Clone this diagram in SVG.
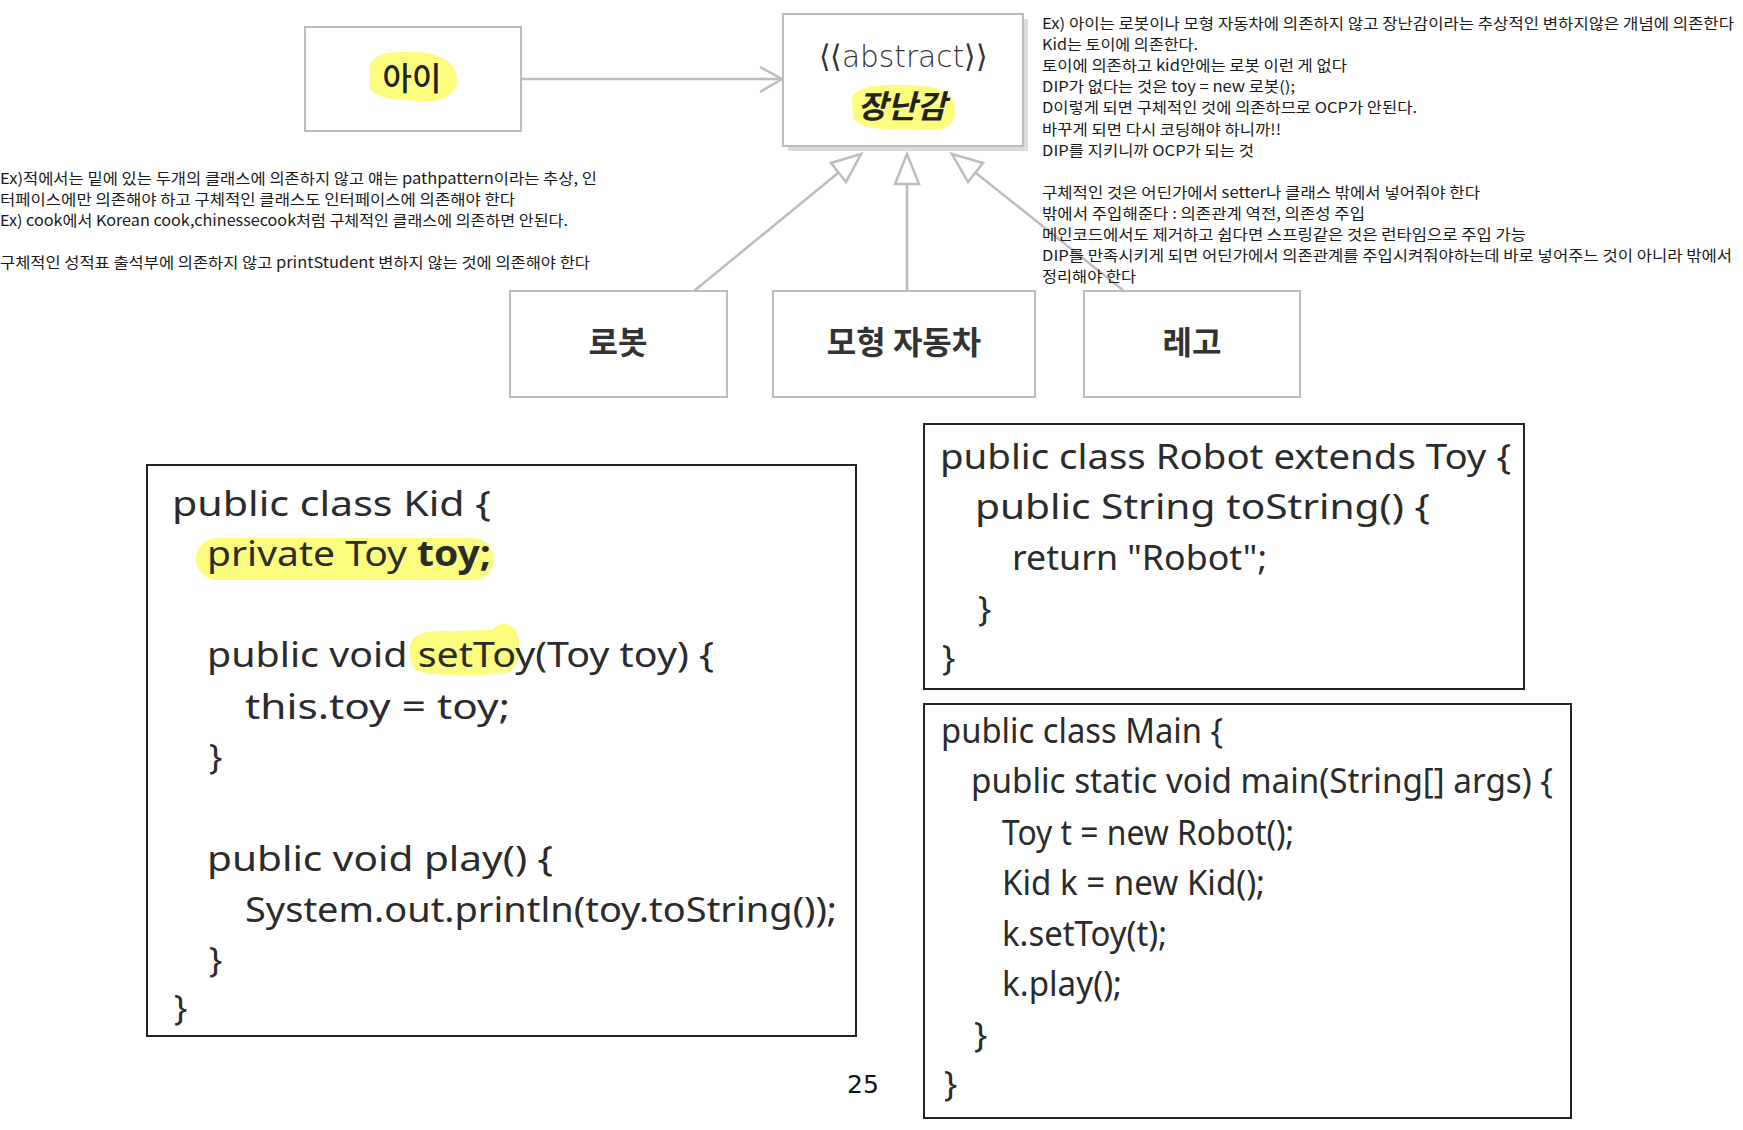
<svg xmlns="http://www.w3.org/2000/svg" width="1743" height="1130" viewBox="0 0 1743 1130">
<defs>
<style>
.bg{fill:#ffffff}
.uml{fill:#ffffff;stroke:#bdbdbd;stroke-width:2}
.shadow{fill:#dcdcdc}
.conn{stroke:#bdbdbd;stroke-width:2.5;fill:none}
.tri{fill:#ffffff;stroke:#bdbdbd;stroke-width:2.5;stroke-linejoin:miter}
.hl{fill:#fcfc7e}
.note{font-family:"Noto Sans CJK KR","Noto Sans",sans-serif;font-size:15px;fill:#1a1a1a}
.lbl{font-family:"Noto Sans CJK KR","Noto Sans",sans-serif;font-size:32px;font-weight:bold;fill:#333333}
.code{font-family:"Noto Sans","DejaVu Sans",sans-serif;font-size:35px;fill:#2b2b2b}
.codebox{fill:#ffffff;stroke:#222222;stroke-width:2}
</style>
</defs>
<rect class="bg" x="0" y="0" width="1743" height="1130"/>

<g id="connectors">
<line class="conn" x1="521" y1="79" x2="781" y2="79"/>
<polyline class="conn" points="760,67 782,79 760,92"/>
<line class="conn" x1="694" y1="291" x2="838" y2="173"/>
<polygon class="tri" points="861,154 831,163 846,182"/>
<line class="conn" x1="907" y1="291" x2="907" y2="184"/>
<polygon class="tri" points="907,154 895,184 919,184"/>
<line class="conn" x1="1124" y1="291" x2="976" y2="173"/>
<polygon class="tri" points="952,154 983,163 968,182"/>
</g>

<g id="node-kid">
<rect class="uml" x="305" y="27" width="216" height="104"/>
<path class="hl" d="M370,72 C368,56 384,51 405,52 C430,50 455,58 457,78 C459,95 441,103 420,101 C395,100 374,99 369,86 Z"/>
<text class="lbl" x="412" y="90" text-anchor="middle" style="font-weight:500;fill:#222">아이</text>
</g>

<g id="node-toy">
<rect class="shadow" x="788" y="19" width="240" height="132"/>
<rect class="uml" x="783" y="14" width="240" height="132"/>
<path class="hl" d="M852,102 C850,89 870,84 900,85 C935,84 956,92 955,110 C956,126 945,132 920,130 C890,129 860,131 853,118 Z"/>
<text x="903" y="67" text-anchor="middle" textLength="168" lengthAdjust="spacingAndGlyphs" style="font-family:'DejaVu Sans',sans-serif;font-size:31px;font-weight:300;fill:#333">⟨⟨abstract⟩⟩</text>
<text class="lbl" x="902" y="118" text-anchor="middle" style="font-style:italic;fill:#222">장난감</text>
</g>

<g id="node-robot">
<rect class="uml" x="510" y="291" width="217" height="106"/>
<text class="lbl" x="618" y="354" text-anchor="middle">로봇</text>
</g>

<g id="node-car">
<rect class="uml" x="773" y="291" width="262" height="106"/>
<text class="lbl" x="904" y="354" text-anchor="middle">모형 자동차</text>
</g>

<g id="node-lego">
<rect class="uml" x="1084" y="291" width="216" height="106"/>
<text class="lbl" x="1192" y="354" text-anchor="middle">레고</text>
</g>

<g id="notes-right">
<text class="note" x="1042" y="29" textLength="692" lengthAdjust="spacingAndGlyphs">Ex) 아이는 로봇이나 모형 자동차에 의존하지 않고 장난감이라는 추상적인 변하지않은 개념에 의존한다</text>
<text class="note" x="1042" y="50" textLength="156" lengthAdjust="spacingAndGlyphs">Kid는 토이에 의존한다.</text>
<text class="note" x="1042" y="71" textLength="305" lengthAdjust="spacingAndGlyphs">토이에 의존하고 kid안에는 로봇 이런 게 없다</text>
<text class="note" x="1042" y="92" textLength="253" lengthAdjust="spacingAndGlyphs">DIP가 없다는 것은 toy = new 로봇();</text>
<text class="note" x="1042" y="113" textLength="375" lengthAdjust="spacingAndGlyphs">D이렇게 되면 구체적인 것에 의존하므로 OCP가 안된다.</text>
<text class="note" x="1042" y="134.5" textLength="239" lengthAdjust="spacingAndGlyphs">바꾸게 되면 다시 코딩해야 하니까!!</text>
<text class="note" x="1042" y="155.5" textLength="212" lengthAdjust="spacingAndGlyphs">DIP를 지키니까 OCP가 되는 것</text>
<text class="note" x="1042" y="198" textLength="438" lengthAdjust="spacingAndGlyphs">구체적인 것은 어딘가에서 setter나 클래스 밖에서 넣어줘야 한다</text>
<text class="note" x="1042" y="219" textLength="323" lengthAdjust="spacingAndGlyphs">밖에서 주입해준다 : 의존관계 역전, 의존성 주입</text>
<text class="note" x="1042" y="240" textLength="484" lengthAdjust="spacingAndGlyphs">메인코드에서도 제거하고 쉽다면 스프링같은 것은 런타임으로 주입 가능</text>
<text class="note" x="1042" y="261" textLength="690" lengthAdjust="spacingAndGlyphs">DIP를 만족시키게 되면 어딘가에서 의존관계를 주입시켜줘야하는데 바로 넣어주느 것이 아니라 밖에서</text>
<text class="note" x="1042" y="282" textLength="94" lengthAdjust="spacingAndGlyphs">정리해야 한다</text>
</g>

<g id="notes-left">
<text class="note" x="0" y="183.5" textLength="597" lengthAdjust="spacingAndGlyphs">Ex)적에서는 밑에 있는 두개의 클래스에 의존하지 않고 얘는 pathpattern이라는 추상, 인</text>
<text class="note" x="0" y="204.5" textLength="515" lengthAdjust="spacingAndGlyphs">터페이스에만 의존해야 하고 구체적인 클래스도 인터페이스에 의존해야 한다</text>
<text class="note" x="0" y="225.5" textLength="568" lengthAdjust="spacingAndGlyphs">Ex) cook에서 Korean cook,chinessecook처럼 구체적인 클래스에 의존하면 안된다.</text>
<text class="note" x="0" y="268" textLength="590" lengthAdjust="spacingAndGlyphs">구체적인 성적표 출석부에 의존하지 않고 printStudent 변하지 않는 것에 의존해야 한다</text>
</g>

<g id="code-kid">
<rect class="codebox" x="147" y="465" width="709" height="571"/>
<rect class="hl" x="196" y="538" width="298" height="42" rx="21"/>
<path class="hl" d="M410,652 C408,634 425,630 450,631 L492,630 C498,622 510,621 516,632 C522,645 520,665 510,672 C490,676 440,676 425,673 C412,671 410,662 410,652 Z"/>
<text class="code" x="172" y="516" textLength="319" lengthAdjust="spacingAndGlyphs">public class Kid {</text>
<text class="code" x="207" y="566" textLength="284" lengthAdjust="spacingAndGlyphs">private Toy <tspan font-weight="bold">toy;</tspan></text>
<text class="code" x="207" y="667" textLength="507" lengthAdjust="spacingAndGlyphs">public void setToy(Toy toy) {</text>
<text class="code" x="245" y="719" textLength="265" lengthAdjust="spacingAndGlyphs">this.toy = toy;</text>
<text class="code" x="209" y="769">}</text>
<text class="code" x="207" y="871" textLength="346" lengthAdjust="spacingAndGlyphs">public void play() {</text>
<text class="code" x="245" y="922" textLength="592" lengthAdjust="spacingAndGlyphs">System.out.println(toy.toString());</text>
<text class="code" x="209" y="972">}</text>
<text class="code" x="174" y="1020">}</text>
</g>

<g id="code-robot">
<rect class="codebox" x="924" y="424" width="600" height="265"/>
<text class="code" x="940" y="469" textLength="571" lengthAdjust="spacingAndGlyphs">public class Robot extends Toy {</text>
<text class="code" x="975" y="519" textLength="455" lengthAdjust="spacingAndGlyphs">public String toString() {</text>
<text class="code" x="1012" y="570" textLength="255" lengthAdjust="spacingAndGlyphs">return "Robot";</text>
<text class="code" x="978" y="621">}</text>
<text class="code" x="942" y="670">}</text>
</g>

<g id="code-main">
<rect class="codebox" x="924" y="704" width="647" height="414"/>
<text class="code" x="941" y="743" textLength="282" lengthAdjust="spacingAndGlyphs">public class Main {</text>
<text class="code" x="971" y="793" textLength="582" lengthAdjust="spacingAndGlyphs">public static void main(String[] args) {</text>
<text class="code" x="1002" y="845" textLength="292" lengthAdjust="spacingAndGlyphs">Toy t = new Robot();</text>
<text class="code" x="1002" y="895" textLength="263" lengthAdjust="spacingAndGlyphs">Kid k = new Kid();</text>
<text class="code" x="1002" y="946" textLength="165" lengthAdjust="spacingAndGlyphs">k.setToy(t);</text>
<text class="code" x="1002" y="996" textLength="120" lengthAdjust="spacingAndGlyphs">k.play();</text>
<text class="code" x="974" y="1047">}</text>
<text class="code" x="944" y="1096">}</text>
</g>

<text x="863" y="1093" text-anchor="middle" style="font-family:'DejaVu Sans',sans-serif;font-size:25px;fill:#111">25</text>
</svg>
